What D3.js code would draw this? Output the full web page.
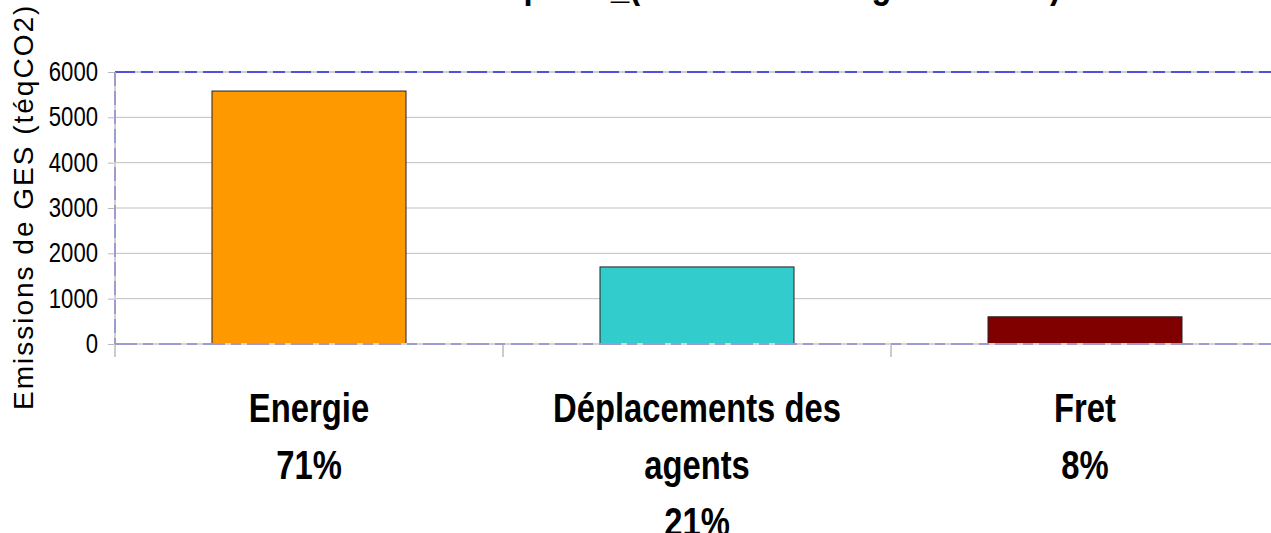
<!DOCTYPE html>
<html>
<head>
<meta charset="utf-8">
<script src="https://cdn.jsdelivr.net/npm/d3@7"></script>
<style>
  body { margin: 0; background: #fff; }
  svg { display: block; }
  text { font-family: "Liberation Sans", Arial, sans-serif; }
</style>
</head>
<body>
<svg width="1271" height="533"></svg>
<script>
// data
const categories = ['Energie', 'Déplacements des agents', 'Fret'];
const labelLines = [['Energie'], ['Déplacements des', 'agents'], ['Fret']];
const percents = ['71%', '21%', '8%'];
const emissions = [5580, 1700, 600];
const barColors = ['#ff9900', '#33cccc', '#800000'];
const yTicks = [0, 1000, 2000, 3000, 4000, 5000, 6000];
const title = 'Emissions totales du poste_(Bilan Carbone global 2010)';
const yTitle = 'Emissions de GES (téqCO2)';

// no Arial Narrow here, so squeeze Liberation Sans horizontally
const narrow = 0.82;

const svg = d3.select('svg');

const plotLeft = 115, plotRight = 1279, plotTop = 72, plotBottom = 344;

// scales
const x = d3.scaleBand()
    .domain(categories)
    .range([plotLeft, plotRight])
    .paddingInner(0.5)
    .paddingOuter(0.25);

const y = d3.scaleLinear()
    .domain([0, 6000])
    .range([plotBottom, plotTop]);

// gridlines
svg.append('g')
    .selectAll('line')
    .data(yTicks.filter(d => d > 0 && d < 6000))
    .join('line')
    .attr('x1', plotLeft).attr('x2', plotRight)
    .attr('y1', d => y(d)).attr('y2', d => y(d))
    .attr('stroke', '#c0c0c0');

// top border (blue dash over gray)
svg.append('line')
    .attr('x1', plotLeft).attr('x2', plotRight)
    .attr('y1', y(6000)).attr('y2', y(6000))
    .attr('stroke', '#c0c0c0').attr('stroke-width', 1.5);
svg.append('line')
    .attr('x1', plotLeft).attr('x2', plotRight)
    .attr('y1', y(6000)).attr('y2', y(6000))
    .attr('stroke', '#2626e0').attr('stroke-width', 1.5)
    .attr('stroke-dasharray', '20,6,12,6');

// y axis
const yAxis = d3.axisLeft(y)
    .tickValues(yTicks)
    .tickSize(7)
    .tickPadding(10)
    .tickFormat(d3.format('d'));

const gy = svg.append('g')
    .attr('transform', `translate(${plotLeft},0)`)
    .call(yAxis)
    .attr('font-family', null);
gy.select('.domain').remove();
gy.selectAll('.tick line').attr('stroke', '#b8b8b8');
gy.selectAll('.tick text')
    .attr('x', -17 / narrow)
    .attr('transform', `scale(${narrow},1)`)
    .attr('font-size', 27)
    .attr('fill', '#000');

// left axis line
svg.append('line')
    .attr('x1', plotLeft).attr('x2', plotLeft)
    .attr('y1', plotTop).attr('y2', plotBottom)
    .attr('stroke', '#d0d0d0').attr('stroke-width', 2);
svg.append('line')
    .attr('x1', plotLeft).attr('x2', plotLeft)
    .attr('y1', plotTop).attr('y2', plotBottom)
    .attr('stroke', '#9c9cd0').attr('stroke-width', 2)
    .attr('stroke-dasharray', '14,5');

// bars
svg.append('g')
    .selectAll('rect')
    .data(emissions)
    .join('rect')
    .attr('x', (d, i) => x(categories[i]))
    .attr('y', d => y(d))
    .attr('width', x.bandwidth())
    .attr('height', d => y(0) - y(d))
    .attr('fill', (d, i) => barColors[i])
    .attr('stroke', '#222')
    .attr('stroke-width', 1);

// x axis line + ticks between categories
const sep = [plotLeft].concat(categories.slice(1).map(c => x(c) - x.step() * x.paddingInner() / 2));
svg.append('g')
    .selectAll('line')
    .data(sep)
    .join('line')
    .attr('x1', d => d).attr('x2', d => d)
    .attr('y1', plotBottom).attr('y2', plotBottom + 13)
    .attr('stroke', '#cccccc').attr('stroke-width', 2);

svg.append('line')
    .attr('x1', plotLeft).attr('x2', plotRight)
    .attr('y1', plotBottom).attr('y2', plotBottom)
    .attr('stroke', '#d4d4d4').attr('stroke-width', 2);
svg.append('line')
    .attr('x1', plotLeft).attr('x2', plotRight)
    .attr('y1', plotBottom).attr('y2', plotBottom)
    .attr('stroke', '#9c9cd0').attr('stroke-width', 2)
    .attr('stroke-dasharray', '22,6,10,6');

// category labels
const lab = svg.append('g')
    .attr('transform', `scale(${narrow},1)`)
    .selectAll('text')
    .data(categories)
    .join('text')
    .attr('text-anchor', 'middle')
    .attr('font-size', 40)
    .attr('font-weight', 'bold')
    .attr('fill', '#000');

lab.selectAll('tspan')
    .data((d, i) => labelLines[i].concat([percents[i]]).map(t => ({t, c: d})))
    .join('tspan')
    .attr('x', d => (x(d.c) + x.bandwidth() / 2) / narrow)
    .attr('y', (d, j) => 422 + j * 57)
    .text(d => d.t);

// y axis title
svg.append('text')
    .attr('transform', 'translate(33,410) rotate(-90)')
    .attr('font-size', 28)
    .attr('letter-spacing', 2)
    .attr('fill', '#000')
    .text(yTitle);

// chart title (cut off at the top)
svg.append('text')
    .attr('transform', `scale(${narrow},1)`)
    .attr('x', 1061 / narrow)
    .attr('y', -2)
    .attr('text-anchor', 'end')
    .attr('font-size', 40)
    .attr('font-weight', 'bold')
    .text(title);
</script>
</body>
</html>
